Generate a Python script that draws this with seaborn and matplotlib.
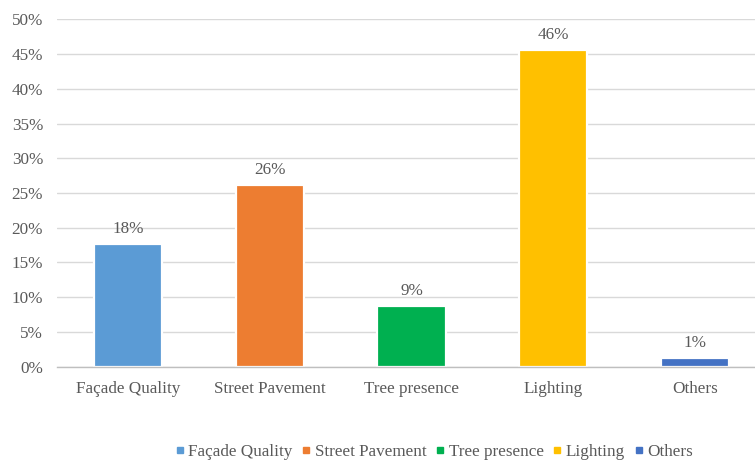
import matplotlib
matplotlib.use("Agg")
import matplotlib.pyplot as plt
from matplotlib.lines import Line2D
from matplotlib.ticker import FuncFormatter, FixedLocator
import seaborn as sns
import pandas as pd

categories = ["Façade Quality", "Street Pavement", "Tree presence", "Lighting", "Others"]
shares = [0.176, 0.262, 0.087, 0.456, 0.012]
colors = ["#5B9BD5", "#ED7D31", "#00B050", "#FFC000", "#4472C4"]

df = pd.DataFrame({"category": categories, "share": shares})

sns.set_theme(style="white")
plt.rcParams["font.family"] = ["Liberation Serif", "DejaVu Serif"]
text_color = "#595959"
grid_color = "#D9D9D9"
fs = 12.3

fig = plt.figure(figsize=(7.55, 4.61), dpi=100)
ax = fig.add_axes([57 / 755, 1 - 366.7 / 461, 698 / 755, 347.4 / 461])

ax.yaxis.grid(True, color=grid_color, linewidth=1.0)
ax.set_axisbelow(True)

sns.barplot(data=df, x="category", y="share", hue="category",
            palette=colors, order=categories, hue_order=categories,
            width=0.48, edgecolor="white", linewidth=1.6,
            legend=False, ax=ax, saturation=1)

for i, v in enumerate(shares):
    ax.annotate(f"{v * 100:.0f}%", (i, v), xytext=(0, 5), textcoords="offset points",
                ha="center", va="bottom", fontsize=fs, color=text_color)

ax.set_ylim(0, 0.5)
ax.set_xlim(-0.5, 4.5 - 11 / 142)
ax.yaxis.set_major_locator(FixedLocator([i * 0.05 for i in range(11)]))
ax.yaxis.set_major_formatter(FuncFormatter(lambda y, _: f"{y * 100:.0f}%"))
ax.tick_params(axis="y", length=0, pad=10, labelsize=fs, labelcolor=text_color)
ax.tick_params(axis="x", which="major", length=0, pad=10, labelsize=fs, labelcolor=text_color)
ax.xaxis.set_minor_locator(FixedLocator([-0.5, 0.5, 1.5, 2.5, 3.5]))
ax.tick_params(axis="x", which="minor", length=4, width=1, color="#BFBFBF", direction="out")
ax.set_xlabel("")
ax.set_ylabel("")

for side in ["top", "right", "left"]:
    ax.spines[side].set_visible(False)
ax.spines["bottom"].set_color("#BFBFBF")
ax.spines["bottom"].set_linewidth(1.0)

handles = [Line2D([0], [0], marker="s", linestyle="none", markersize=5,
                  markerfacecolor=c, markeredgecolor=c) for c in colors]
fig.legend(handles, categories, loc="center", bbox_to_anchor=(0.575, 0.02), ncol=5,
           frameon=False, handlelength=0.5, handletextpad=0.25, columnspacing=0.55,
           fontsize=fs, labelcolor=text_color)

fig.savefig("out.png", dpi=100)
